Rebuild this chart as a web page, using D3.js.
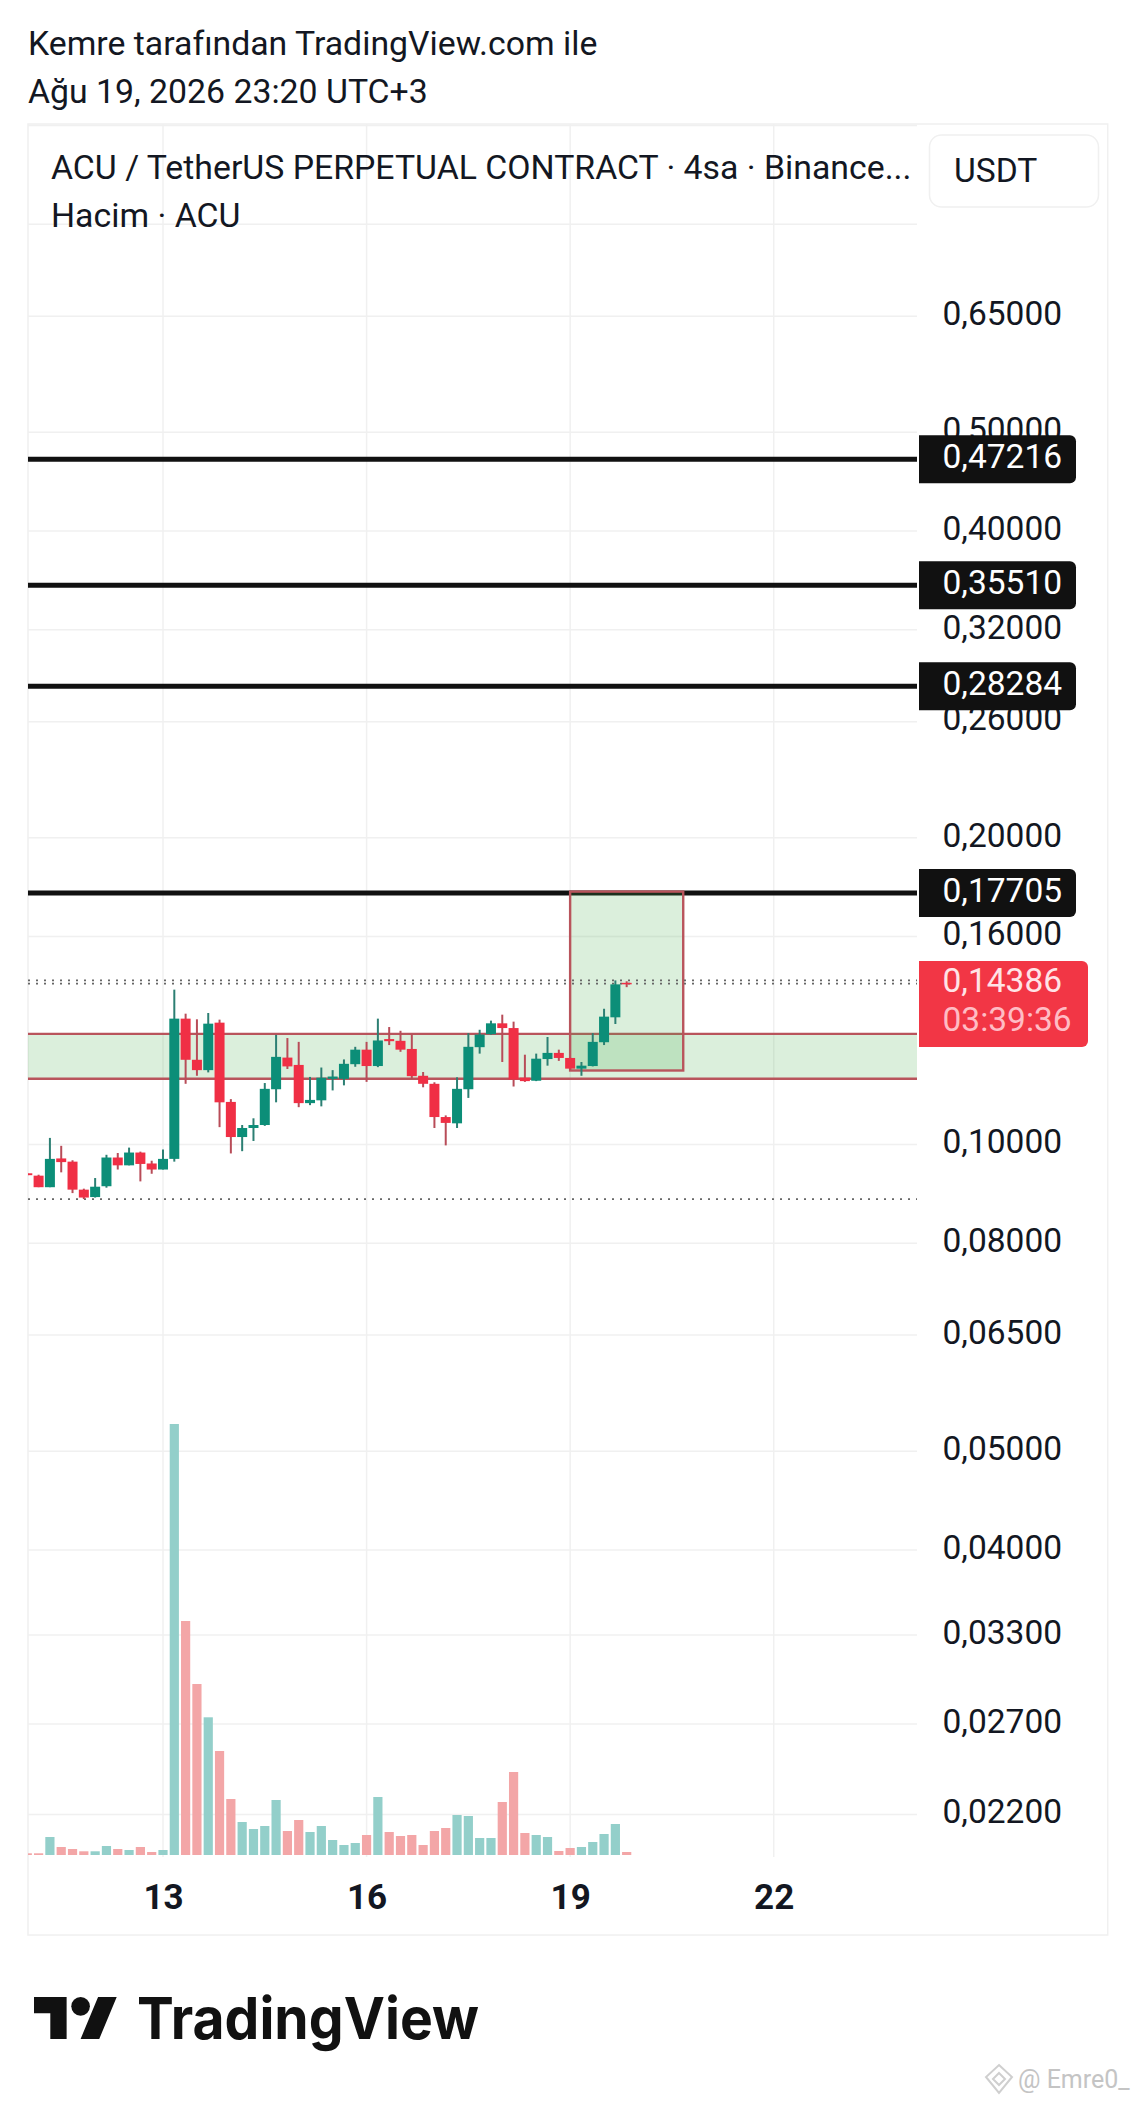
<!DOCTYPE html>
<html>
<head>
<meta charset="utf-8">
<script src="https://cdn.jsdelivr.net/npm/d3@7"></script>
<style>
    body { margin: 0; background: #fff; }
    text { font-family: Roboto, sans-serif; fill: #131722; }
</style>
</head>
<body>
<div id="chart"></div>
<script>
'use strict';

// 4h bars, bar 0 sits on the "13" gridline
const firstBar = -12;
const opens = [.0937,.0932,.0908,.0969,.0962,.0903,.0888,.0910,.0971,.0954,.0982,.0958,.0945,.0968,.1329,.1211,.1183,.1317,.1101,.1017,.1038,.1045,.1133,.1217,.1197,.1098,.1105,.1160,.1160,.1199,.1239,.1194,.1269,.1264,.1241,.1168,.1147,.1064,.1049,.1133,.1246,.1283,.1315,.1301,.1163,.1155,.1213,.1230,.1216,.1187,.1194,.1260,.1333,.1441];
const highs = [.0937,.0934,.1015,.0997,.0965,.0905,.0927,.0977,.0981,.0993,.0984,.0964,.0989,.1419,.1344,.1327,.1346,.1326,.1108,.1045,.1061,.1149,.1281,.1272,.1261,.1165,.1190,.1183,.1212,.1247,.1261,.1329,.1304,.1293,.1282,.1178,.1151,.1068,.1164,.1286,.1296,.1323,.1341,.1320,.1225,.1228,.1275,.1239,.1217,.1205,.1286,.1359,.1449,.1446];
const lows = [.0933,.0908,.0908,.0939,.0896,.0884,.0887,.0907,.0945,.0954,.0920,.0936,.0945,.0962,.1147,.1168,.1177,.1040,.0980,.0985,.1008,.1043,.1100,.1186,.1088,.1093,.1090,.1130,.1143,.1192,.1152,.1191,.1252,.1233,.1160,.1138,.1038,.0998,.1038,.1111,.1228,.1282,.1205,.1140,.1152,.1154,.1195,.1208,.1183,.1168,.1193,.1252,.1313,.1427];
const closes = [.0933,.0908,.0968,.0961,.0903,.0887,.0909,.0971,.0954,.0982,.0957,.0945,.0968,.1329,.1211,.1183,.1314,.1100,.1017,.1038,.1045,.1134,.1219,.1193,.1098,.1106,.1163,.1166,.1200,.1239,.1194,.1265,.1263,.1239,.1167,.1147,.1064,.1050,.1134,.1247,.1282,.1315,.1301,.1158,.1154,.1214,.1230,.1216,.1187,.1195,.1261,.1335,.1436,.14386];
const volumes = [1.7,1.7,18,8,6,3.7,3.7,9,6,5,8,3,5,431,234,171,137.7,104,56,33,26,29,55,24,35,23,29,15,10,12,20,58,23,19,20,10,24,27,40,39,17,17,53,83,22,20,18,4,7,8,13,21,31,3];

const priceTicks = [0.65, 0.5, 0.4, 0.32, 0.26, 0.2, 0.16, 0.1, 0.08, 0.065, 0.05, 0.04, 0.033, 0.027, 0.022];
const hiddenGridPrices = [1, 0.8];
const dayTickBars = [0, 18, 36, 54];
const dayTickLabels = ['13', '16', '19', '22'];

// horizontal rays: where they sit on the picture, and what their tags print
const levelPrices = [0.4704, 0.3539, 0.2816, 0.1765];
const levelLabels = ['0,47216', '0,35510', '0,28284', '0,17705'];
const lastPrice = 0.14386;
const countdown = '03:39:36';
const zoneBand = [0.1284, 0.1160];
const zoneBox = {bars: [36, 46], prices: [0.1771, 0.1182]};

const green = '#0c8e78', red = '#f02f45';
const greenWick = '#2c7f73', redWick = '#b84c58';
const gridColor = '#f0f0f0';

const W = 1136, H = 2104;
const plot = {left: 28, right: 917, top: 124, bottom: 1935, axisX: 1107.7, volBase: 1855};

const svg = d3.select('#chart').append('svg').attr('width', W).attr('height', H).style('display', 'block');

const x = d3.scaleLinear().domain([0, 54]).range([163, 773.7]);
const y = d3.scaleLog().domain([0.022, 1]).range([1814.5, 125.6]);
const vol = d3.scaleLinear().domain([0, d3.max(volumes)]).range([plot.volBase, plot.volBase - 431]);

const bars = opens.map((o, i) => ({
    bar: firstBar + i, o, h: highs[i], l: lows[i], c: closes[i], v: volumes[i], up: closes[i] >= o
}));

svg.append('defs').append('clipPath').attr('id', 'plot-clip')
    .append('rect').attr('x', plot.left).attr('y', plot.top)
    .attr('width', plot.right - plot.left).attr('height', plot.bottom - plot.top);

// header
svg.append('text').attr('x', 28).attr('y', 55).attr('font-size', 33.8).text('Kemre tarafından TradingView.com ile');
svg.append('text').attr('x', 28).attr('y', 103).attr('font-size', 33.8).text('Ağu 19, 2026 23:20 UTC+3');

// panel frame
svg.append('rect').attr('x', plot.left).attr('y', plot.top)
    .attr('width', plot.axisX - plot.left).attr('height', plot.bottom - plot.top)
    .attr('fill', 'none').attr('stroke', gridColor).attr('stroke-width', 1.5);

// grid
const grid = svg.append('g').attr('stroke', gridColor).attr('stroke-width', 1.5);
grid.selectAll('.h').data(priceTicks.concat(hiddenGridPrices)).enter().append('line')
    .attr('x1', plot.left).attr('x2', plot.right)
    .attr('y1', (d) => y(d)).attr('y2', (d) => y(d));
grid.selectAll('.v').data(dayTickBars).enter().append('line')
    .attr('x1', (d) => x(d)).attr('x2', (d) => x(d))
    .attr('y1', plot.top).attr('y2', plot.volBase + 2);

const chart = svg.append('g').attr('clip-path', 'url(#plot-clip)');

// volume
chart.selectAll('.vol').data(bars).enter().append('rect')
    .attr('x', (d) => x(d.bar) - 4.6).attr('width', 9.2)
    .attr('y', (d) => vol(d.v)).attr('height', (d) => plot.volBase - vol(d.v))
    .attr('fill', (d) => d.up ? '#93cfca' : '#f3a6a7');

// rays
chart.selectAll('.level').data(levelPrices).enter().append('line')
    .attr('x1', plot.left).attr('x2', plot.right)
    .attr('y1', (d) => y(d)).attr('y2', (d) => y(d))
    .attr('stroke', '#111').attr('stroke-width', 5);

// zones
const zoneFill = '#4caf50', zoneStroke = '#b9545c';
chart.append('rect').attr('x', plot.left).attr('width', plot.right - plot.left)
    .attr('y', y(zoneBand[0])).attr('height', y(zoneBand[1]) - y(zoneBand[0]))
    .attr('fill', zoneFill).attr('fill-opacity', 0.2);
chart.selectAll('.band').data(zoneBand).enter().append('line')
    .attr('x1', plot.left).attr('x2', plot.right)
    .attr('y1', (d) => y(d)).attr('y2', (d) => y(d))
    .attr('stroke', zoneStroke).attr('stroke-width', 2.4);
chart.append('rect')
    .attr('x', x(zoneBox.bars[0])).attr('width', x(zoneBox.bars[1]) - x(zoneBox.bars[0]))
    .attr('y', y(zoneBox.prices[0])).attr('height', y(zoneBox.prices[1]) - y(zoneBox.prices[0]))
    .attr('fill', zoneFill).attr('fill-opacity', 0.2)
    .attr('stroke', zoneStroke).attr('stroke-width', 2.4);

// dotted high / low / last lines
const dotted = [d3.max(highs), lastPrice, d3.min(lows)];
chart.selectAll('.dots').data(dotted).enter().append('line')
    .attr('x1', plot.left).attr('x2', plot.right)
    .attr('y1', (d) => y(d)).attr('y2', (d) => y(d))
    .attr('stroke', '#666').attr('stroke-width', 1.8).attr('stroke-dasharray', '2 6');

// candles
const candle = chart.selectAll('.candle').data(bars).enter().append('g');
candle.append('line')
    .attr('x1', (d) => x(d.bar)).attr('x2', (d) => x(d.bar))
    .attr('y1', (d) => y(d.h)).attr('y2', (d) => y(d.l))
    .attr('stroke', (d) => d.up ? greenWick : redWick).attr('stroke-width', 2);
candle.append('rect')
    .attr('x', (d) => x(d.bar) - 5).attr('width', 10)
    .attr('y', (d) => y(Math.max(d.o, d.c)))
    .attr('height', (d) => Math.max(1.5, Math.abs(y(d.o) - y(d.c))))
    .attr('fill', (d) => d.up ? green : red);

// price axis
const priceAxis = d3.axisRight(y).tickValues(priceTicks).tickSize(0).tickPadding(0)
    .tickFormat((d) => d.toFixed(5).replace('.', ','));
const priceG = svg.append('g').attr('transform', 'translate(942.5,-2.5)').call(priceAxis);
priceG.select('.domain').remove();
priceG.selectAll('text').attr('x', 0).attr('font-size', 33.5).style('font-family', 'Roboto, sans-serif').style('fill', '#131722');

// day axis
const dayAxis = d3.axisBottom(x).tickValues(dayTickBars).tickSize(0).tickPadding(0)
    .tickFormat((d, i) => dayTickLabels[i]);
const dayG = svg.append('g').attr('transform', 'translate(0,1884)').call(dayAxis);
dayG.select('.domain').remove();
dayG.selectAll('text').attr('font-size', 35).attr('font-weight', 700).style('font-family', 'Roboto, sans-serif').style('fill', '#131722');

// price tags
const tags = svg.selectAll('.tag').data(levelPrices).enter().append('g')
    .attr('transform', (d) => `translate(919,${y(d)})`);
tags.append('path')
    .attr('d', 'M0,-24H151a6,6 0 0 1 6,6V18a6,6 0 0 1 -6,6H0Z')
    .attr('fill', '#111');
tags.append('text').attr('x', 23.5).attr('y', 9).attr('font-size', 33.5)
    .style('fill', '#fff').text((d, i) => levelLabels[i]);

const lastTag = svg.append('g').attr('transform', `translate(919,${y(lastPrice) - 22.5})`);
lastTag.append('path')
    .attr('d', 'M0,0H163a6,6 0 0 1 6,6V80a6,6 0 0 1 -6,6H0Z')
    .attr('fill', '#f23645');
lastTag.append('text').attr('x', 23.5).attr('y', 31).attr('font-size', 33.5)
    .style('fill', '#ffe3e6').text(lastPrice.toFixed(5).replace('.', ','));
lastTag.append('text').attr('x', 23.5).attr('y', 70).attr('font-size', 33.5)
    .style('fill', '#ffbcc4').text(countdown);

// legend
svg.append('text').attr('x', 51).attr('y', 179).attr('font-size', 33.8)
    .text('ACU / TetherUS PERPETUAL CONTRACT · 4sa · Binance...');
svg.append('text').attr('x', 51).attr('y', 227).attr('font-size', 33.8).text('Hacim · ACU');

svg.append('rect').attr('x', 929.5).attr('y', 135).attr('width', 169).attr('height', 72).attr('rx', 12)
    .attr('fill', '#fff').attr('stroke', gridColor).attr('stroke-width', 1.5);
svg.append('text').attr('x', 954).attr('y', 182).attr('font-size', 33.6).text('USDT');

// logo
const logo = svg.append('g').attr('transform', 'translate(34,1987.7) scale(2.33)').attr('fill', '#111');
logo.append('path').attr('d', 'M14 22H7V11H0V4h14v18zM28 22h-8l7.5-18h8L28 22z');
logo.append('circle').attr('cx', 20).attr('cy', 8).attr('r', 4);
svg.append('text').attr('x', 137).attr('y', 2039).attr('font-size', 58).attr('font-weight', 700)
    .attr('textLength', 342).attr('lengthAdjust', 'spacingAndGlyphs')
    .style('font-family', 'Inter, sans-serif').style('fill', '#111').text('TradingView');

// watermark
const mark = svg.append('g').attr('transform', 'translate(999,2079)')
    .attr('fill', 'none').attr('stroke', '#cfcfcf').attr('stroke-width', 2);
mark.append('path').attr('d', 'M0,-14L13,-2L0,14L-13,-2Z');
mark.append('path').attr('d', 'M0,-6L6,0L0,6L-6,0Z');
svg.append('text').attr('x', 1018).attr('y', 2088).attr('font-size', 25)
    .style('fill', '#c4c4c4').text('@ Emre0_');
</script>
</body>
</html>
